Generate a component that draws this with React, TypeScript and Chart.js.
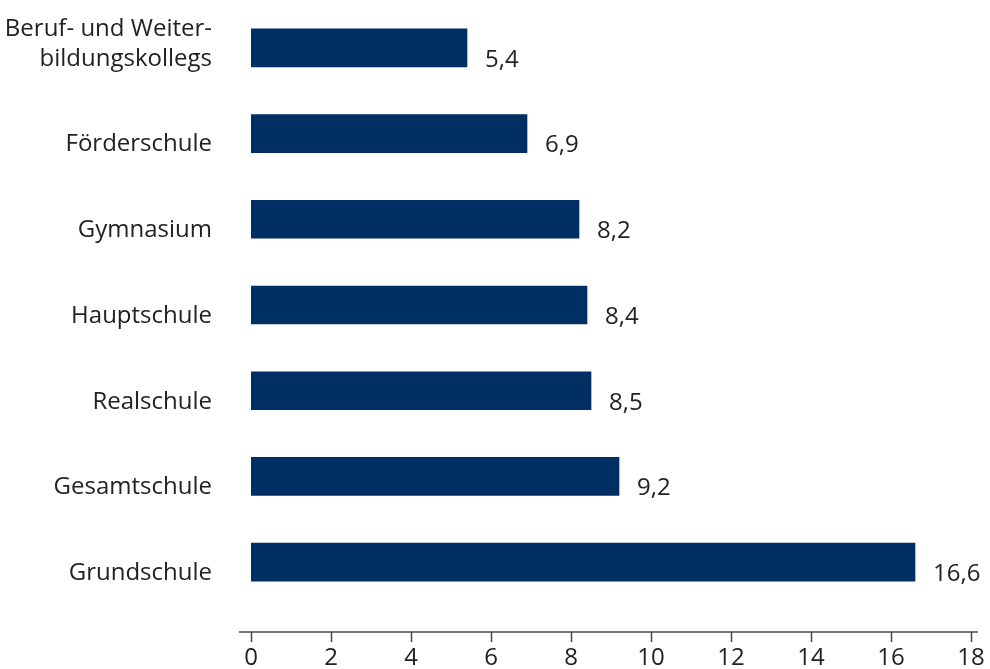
import React, { useEffect, useRef } from "react";
import { Chart, registerables } from "chart.js";

Chart.register(...registerables);

const categories: (string | string[])[] = [
  ["Beruf- und Weiter-", "bildungskollegs", ""],
  "Förderschule",
  "Gymnasium",
  "Hauptschule",
  "Realschule",
  "Gesamtschule",
  "Grundschule",
];
const values = [5.4, 6.9, 8.2, 8.4, 8.5, 9.2, 16.6];
const xMin = 0;
const xMax = 18;
const xStep = 2;

const BAR_COLOR = "#003063";
const TEXT_COLOR = "#222222";
const AXIS_COLOR = "#4a4a4a";
const FONT_FAMILY = '"Open Sans", "Liberation Sans", Arial, sans-serif';
const FONT_SIZE = 24;

const fmt = (v: number) => v.toFixed(1).replace(".", ",");

const valueLabelPlugin = {
  id: "valueLabels",
  afterDatasetsDraw(chart: any) {
    const ctx = chart.ctx;
    const meta = chart.getDatasetMeta(0);
    ctx.save();
    ctx.font = `${FONT_SIZE}px ${FONT_FAMILY}`;
    ctx.fillStyle = TEXT_COLOR;
    ctx.textAlign = "left";
    ctx.textBaseline = "middle";
    meta.data.forEach((bar: any, i: number) => {
      ctx.fillText(fmt(values[i]), bar.x + 18, bar.y + 12);
    });
    ctx.restore();
  },
};

const xAxisPlugin = {
  id: "xAxisLine",
  afterDraw(chart: any) {
    const ctx = chart.ctx;
    const xs = chart.scales.x;
    const y = chart.chartArea.bottom + 27;
    ctx.save();
    ctx.strokeStyle = AXIS_COLOR;
    ctx.lineWidth = 1.5;
    ctx.beginPath();
    ctx.moveTo(xs.left - 12, y);
    ctx.lineTo(xs.right + 7, y);
    xs.ticks.forEach((_t: any, i: number) => {
      const px = Math.round(xs.getPixelForTick(i)) + 0.5;
      ctx.moveTo(px, y);
      ctx.lineTo(px, y + 10);
    });
    ctx.stroke();
    ctx.restore();
  },
};

const zeroPadding = (scale: any) => {
  scale.paddingTop = 0;
  scale.paddingBottom = 0;
  scale.paddingLeft = 0;
  scale.paddingRight = 0;
};

export default function App() {
  const ref = useRef<HTMLCanvasElement | null>(null);

  useEffect(() => {
    if (!ref.current) return;
    const chart = new Chart(ref.current, {
      type: "bar",
      data: {
        labels: categories as any,
        datasets: [
          {
            data: values,
            backgroundColor: BAR_COLOR,
            borderWidth: 0,
            barThickness: 38,
          },
        ],
      },
      options: {
        indexAxis: "y",
        responsive: false,
        animation: false,
        layout: { padding: { top: 5, right: 19, left: 0, bottom: 0 } },
        plugins: {
          legend: { display: false },
          tooltip: { enabled: false },
        },
        scales: {
          x: {
            type: "linear",
            min: xMin,
            max: xMax,
            border: { display: false },
            grid: { display: false, drawTicks: false },
            ticks: {
              stepSize: xStep,
              color: TEXT_COLOR,
              padding: 39,
              maxRotation: 0,
              autoSkip: false,
              font: { family: FONT_FAMILY, size: FONT_SIZE },
            },
            afterFit(scale: any) {
              scale.height = 64;
              zeroPadding(scale);
            },
          },
          y: {
            type: "category",
            offset: true,
            border: { display: false },
            grid: { display: false, drawTicks: false },
            ticks: {
              color: TEXT_COLOR,
              padding: 39,
              labelOffset: 11,
              autoSkip: false,
              font: { family: FONT_FAMILY, size: FONT_SIZE, lineHeight: 1.25 },
            },
            afterFit(scale: any) {
              scale.width = 251;
              zeroPadding(scale);
            },
          },
        },
      },
      plugins: [valueLabelPlugin, xAxisPlugin],
    });
    return () => chart.destroy();
  }, []);

  return (
    <div style={{ position: "absolute", left: 0, top: 0, width: 990, height: 669, background: "#fff" }}>
      <canvas ref={ref} width={990} height={669} />
    </div>
  );
}
